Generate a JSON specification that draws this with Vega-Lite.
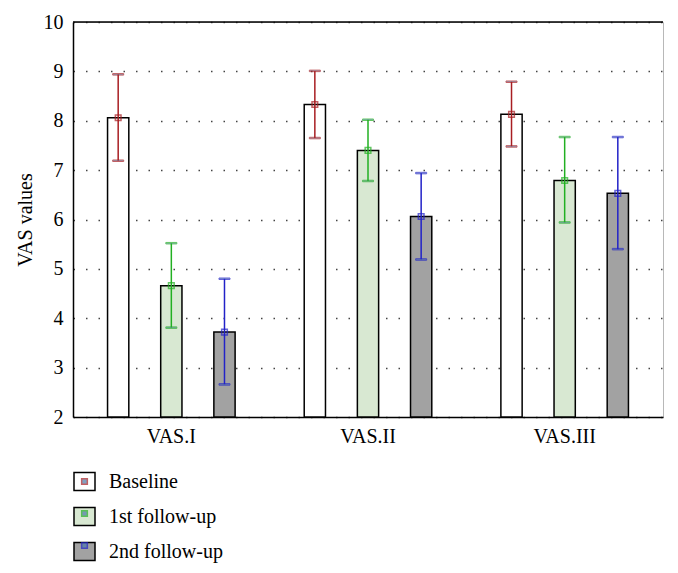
{
  "$schema": "https://vega.github.io/schema/vega-lite/v6.json",
  "autosize": "none",
  "width": 590,
  "height": 395,
  "padding": {"left": 73, "top": 22, "right": 15, "bottom": 156},
  "background": "white",
  "config": {
    "view": {"stroke": "#b8b8b8", "strokeWidth": 1},
    "font": "Liberation Serif",
    "axis": {"labelFont": "Liberation Serif", "titleFont": "Liberation Serif", "labelColor": "black", "titleColor": "black", "titleFontWeight": "normal"},
    "axisY": {"labelOverlap": false},
    "legend": {"labelFont": "Liberation Serif"}
  },
  "data": {
    "values": [
      {"vas": "VAS.I", "group": "Baseline", "mean": 8.06, "lo": 7.19, "hi": 8.94},
      {"vas": "VAS.I", "group": "1st follow-up", "mean": 4.66, "lo": 3.81, "hi": 5.52},
      {"vas": "VAS.I", "group": "2nd follow-up", "mean": 3.72, "lo": 2.66, "hi": 4.8},
      {"vas": "VAS.II", "group": "Baseline", "mean": 8.33, "lo": 7.65, "hi": 9.01},
      {"vas": "VAS.II", "group": "1st follow-up", "mean": 7.4, "lo": 6.78, "hi": 8.02},
      {"vas": "VAS.II", "group": "2nd follow-up", "mean": 6.06, "lo": 5.19, "hi": 6.94},
      {"vas": "VAS.III", "group": "Baseline", "mean": 8.13, "lo": 7.48, "hi": 8.79},
      {"vas": "VAS.III", "group": "1st follow-up", "mean": 6.79, "lo": 5.94, "hi": 7.67},
      {"vas": "VAS.III", "group": "2nd follow-up", "mean": 6.53, "lo": 5.4, "hi": 7.67}
    ]
  },
  "transform": [{"calculate": "datum.group", "as": "marker"}],
  "layer": [
    {
      "encoding": {
        "x": {
          "field": "vas", "type": "nominal", "sort": ["VAS.I", "VAS.II", "VAS.III"],
          "scale": {"paddingInner": 0, "paddingOuter": 0},
          "axis": {"title": null, "labelAngle": 0, "labelFontSize": 20, "labelPadding": 9, "domainColor": "black", "domainWidth": 1.5, "ticks": false}
        },
        "xOffset": {
          "field": "group", "type": "nominal", "sort": ["Baseline", "1st follow-up", "2nd follow-up"],
          "scale": {"paddingInner": 0.6, "paddingOuter": 0.65}
        }
      },
      "layer": [
        {
          "mark": {"type": "bar", "stroke": "black", "strokeWidth": 1.5},
          "encoding": {
            "y": {
              "field": "mean", "type": "quantitative",
              "scale": {"domain": [2, 10], "zero": false, "nice": false},
              "axis": {"title": "VAS values", "titleFontSize": 20, "titlePadding": 8, "labelFontSize": 20, "labelPadding": 10, "ticks": false, "values": [2, 3, 4, 5, 6, 7, 8, 9, 10], "labelOverlap": false, "domainColor": "black", "domainWidth": 1.5, "grid": true, "gridColor": "#444", "gridWidth": 1.3, "gridDash": [1.5, 11]}
            },
            "y2": {"datum": 2},
            "fill": {
              "field": "group", "type": "nominal",
              "scale": {"domain": ["Baseline", "1st follow-up", "2nd follow-up"], "range": ["white", "#d8e8d2", "#a2a2a2"]},
              "legend": {"title": null, "orient": "none", "legendX": 0, "legendY": 448, "padding": 0, "zindex": 0, "symbolType": "M-1,-0.86H1V0.86H-1Z", "symbolSize": 441, "symbolStrokeColor": "black", "symbolStrokeWidth": 1.5, "labelFontSize": 20, "labelColor": "black", "labelOffset": 13, "rowPadding": 10}
            }
          }
        },
        {
          "mark": {"type": "rule", "strokeWidth": 1.5},
          "encoding": {
            "y": {"field": "lo", "type": "quantitative", "axis": {"title": "VAS values", "titleFontSize": 20, "titlePadding": 8, "labelFontSize": 20, "labelPadding": 10, "ticks": false, "values": [2, 3, 4, 5, 6, 7, 8, 9, 10], "labelOverlap": false, "domainColor": "black", "domainWidth": 1.5, "grid": true, "gridColor": "#444", "gridWidth": 1.3, "gridDash": [1.5, 11]}},
            "y2": {"field": "hi"},
            "stroke": {
              "field": "marker", "type": "nominal", "sort": ["Baseline", "1st follow-up", "2nd follow-up"],
              "scale": {"range": ["#a81e22", "#22b022", "#2222c8"]},
              "legend": {"title": null, "orient": "none", "legendX": 0, "legendY": 448, "padding": 0, "zindex": 2, "symbolType": "M-0.27,-0.27H0.27V0.27H-0.27Z", "symbolSize": 441, "symbolFillColor": "transparent", "symbolStrokeWidth": 1.5, "labelFontSize": 20, "labelExpr": "''", "labelOffset": 13, "rowPadding": 10}
            }
          }
        },
        {
          "mark": {"type": "tick", "thickness": 1.5, "size": 11},
          "encoding": {
            "y": {"field": "lo", "type": "quantitative", "axis": {"title": "VAS values", "titleFontSize": 20, "titlePadding": 8, "labelFontSize": 20, "labelPadding": 10, "ticks": false, "values": [2, 3, 4, 5, 6, 7, 8, 9, 10], "labelOverlap": false, "domainColor": "black", "domainWidth": 1.5, "grid": true, "gridColor": "#444", "gridWidth": 1.3, "gridDash": [1.5, 11]}},
            "stroke": {"field": "marker", "type": "nominal", "sort": ["Baseline", "1st follow-up", "2nd follow-up"]}
          }
        },
        {
          "mark": {"type": "tick", "thickness": 1.5, "size": 11},
          "encoding": {
            "y": {"field": "hi", "type": "quantitative", "axis": {"title": "VAS values", "titleFontSize": 20, "titlePadding": 8, "labelFontSize": 20, "labelPadding": 10, "ticks": false, "values": [2, 3, 4, 5, 6, 7, 8, 9, 10], "labelOverlap": false, "domainColor": "black", "domainWidth": 1.5, "grid": true, "gridColor": "#444", "gridWidth": 1.3, "gridDash": [1.5, 11]}},
            "stroke": {"field": "marker", "type": "nominal", "sort": ["Baseline", "1st follow-up", "2nd follow-up"]}
          }
        },
        {
          "mark": {"type": "point", "shape": "square", "filled": false, "size": 32, "strokeWidth": 1.5},
          "encoding": {
            "y": {"field": "mean", "type": "quantitative", "axis": {"title": "VAS values", "titleFontSize": 20, "titlePadding": 8, "labelFontSize": 20, "labelPadding": 10, "ticks": false, "values": [2, 3, 4, 5, 6, 7, 8, 9, 10], "labelOverlap": false, "domainColor": "black", "domainWidth": 1.5, "grid": true, "gridColor": "#444", "gridWidth": 1.3, "gridDash": [1.5, 11]}},
            "stroke": {"field": "marker", "type": "nominal", "sort": ["Baseline", "1st follow-up", "2nd follow-up"]}
          }
        }
      ]
    },
    {
      "data": {"values": [{"top": 10}]},
      "mark": {"type": "rule", "stroke": "black", "strokeWidth": 1.5},
      "encoding": {
        "y": {"field": "top", "type": "quantitative", "axis": {"title": "VAS values", "titleFontSize": 20, "titlePadding": 8, "labelFontSize": 20, "labelPadding": 10, "ticks": false, "values": [2, 3, 4, 5, 6, 7, 8, 9, 10], "labelOverlap": false, "domainColor": "black", "domainWidth": 1.5, "grid": true, "gridColor": "#444", "gridWidth": 1.3, "gridDash": [1.5, 11]}}
      }
    }
  ]
}
